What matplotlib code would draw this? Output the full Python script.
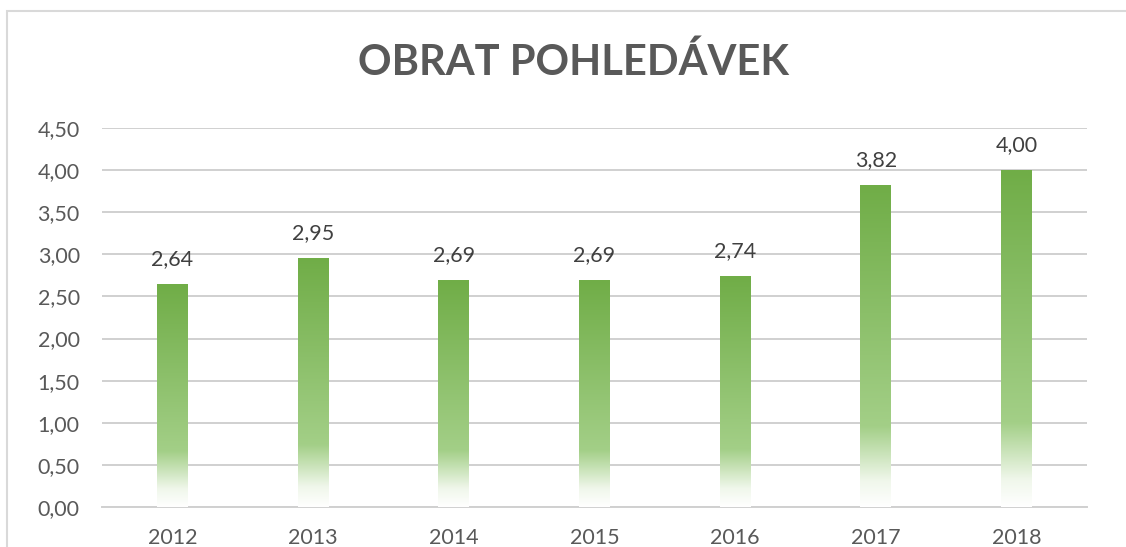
import numpy as np
import matplotlib.pyplot as plt
from matplotlib.colors import to_rgb
from matplotlib.ticker import FuncFormatter
from matplotlib.patches import Rectangle

# Obrat pohledávek po letech
roky = ['2012', '2013', '2014', '2015', '2016', '2017', '2018']
obrat = [2.64, 2.95, 2.69, 2.69, 2.74, 3.82, 4.00]

plt.rcParams['font.family'] = ['Lato', 'DejaVu Sans']

fig = plt.figure(figsize=(11.26, 5.47), dpi=100)
ax = fig.add_axes([102 / 1126, 1 - 507 / 547, (1087 - 102) / 1126, (507 - 128) / 547])

# rámeček grafu (oříznutý vpravo a dole)
fig.patches.append(Rectangle((7 / 1126, -0.1), 1.2, 1 - 11 / 547 + 0.1, transform=fig.transFigure,
                             fill=False, edgecolor='#D9D9D9', linewidth=1.5))

# gradient: dole bílá, nahoře zelená
stops = [(0.0, '#FFFFFF'), (0.08, '#F0F7EB'), (0.25, '#A3CF87'), (1.0, '#70AD47')]
n = 256
t = np.linspace(0, 1, n)
pos = [s[0] for s in stops]
cols = np.array([to_rgb(s[1]) for s in stops])
grad = np.zeros((n, 1, 3))
for c in range(3):
    grad[:, 0, c] = np.interp(t, pos, cols[:, c])

bar_w = 0.22
x = np.arange(len(roky))
bars = ax.bar(x, obrat, width=bar_w, color='none', edgecolor='none', zorder=3)
for b in bars:
    x0, h = b.get_x(), b.get_height()
    ax.imshow(grad, extent=(x0, x0 + b.get_width(), 0, h), origin='lower',
              aspect='auto', zorder=3, interpolation='bilinear')

for xi, v in zip(x, obrat):
    ax.text(xi, v + 0.23, f'{v:.2f}'.replace('.', ','), ha='center', va='baseline',
            fontsize=15.5, color='#404040', zorder=4)

ax.set_xlim(-0.5, len(roky) - 0.5)
ax.set_ylim(0, 4.5)
ax.set_yticks(np.arange(0, 4.51, 0.5))
ax.yaxis.set_major_formatter(FuncFormatter(lambda v, p: f'{v:.2f}'.replace('.', ',')))
ax.set_xticks(x)
ax.set_xticklabels(roky)
ax.grid(axis='y', color='#D0D0D0', linewidth=1.4, zorder=0)
ax.set_axisbelow(True)
for s in ['top', 'right', 'left']:
    ax.spines[s].set_visible(False)
ax.spines['bottom'].set_color('#D0D0D0')
ax.spines['bottom'].set_linewidth(1.4)
ax.tick_params(axis='both', length=0, labelsize=15.5, labelcolor='#595959')
ax.tick_params(axis='y', pad=16)
ax.tick_params(axis='x', pad=15)

fig.text(573 / 1126, 1 - 62 / 547, 'OBRAT POHLEDÁVEK', ha='center', va='center',
         fontsize=30, fontweight='bold', color='#595959')

fig.savefig('out.png', dpi=100)
